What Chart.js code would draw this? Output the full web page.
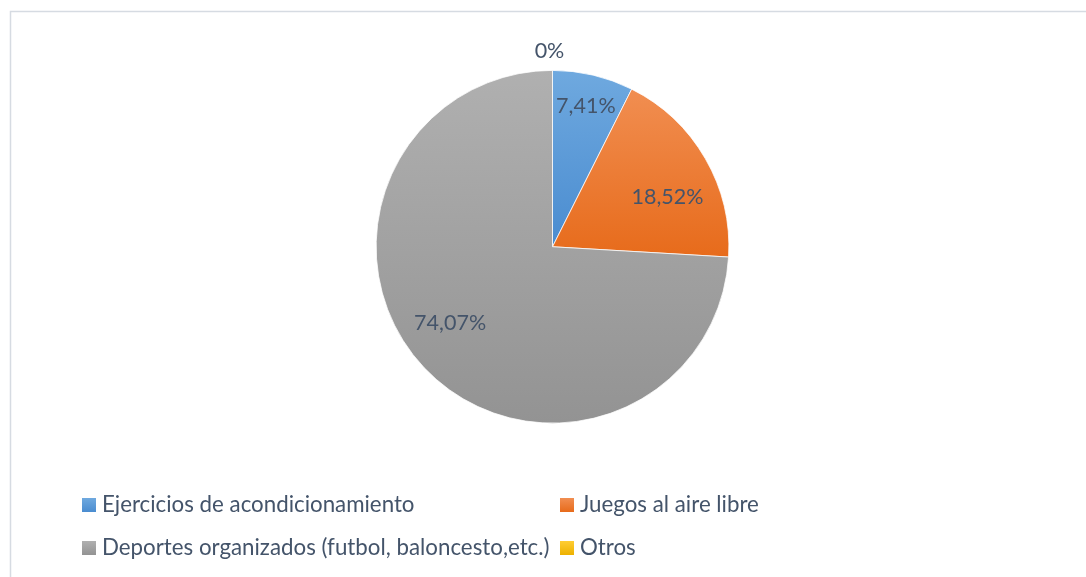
<!DOCTYPE html>
<html>
<head>
<meta charset="utf-8">
<script src="https://cdn.jsdelivr.net/npm/chart.js@4.4.1/dist/chart.umd.min.js"></script>
<style>
  html, body { margin: 0; padding: 0; background: #ffffff; }
  #wrap { position: relative; width: 1086px; height: 577px; }
</style>
</head>
<body>
<div id="wrap"><canvas id="c" width="1086" height="577"></canvas></div>
<script>
// Categories and their shares (percent)
const categories = [
  'Ejercicios de acondicionamiento',
  'Juegos al aire libre',
  'Deportes organizados (futbol, baloncesto,etc.)',
  'Otros'
];
const shares = [7.41, 18.52, 74.07, 0];

// Slice fills: light tone at the top of each slice, darker tone at the bottom
const topColors = ['#6FA9DF', '#F18E51', '#B0B0B0', '#FFCD33'];
const bottomColors = ['#4A8CD0', '#E76B1B', '#939393', '#EDB100'];

const TEXT_COLOR = '#44546A';
const FONT_FAMILY = 'Lato, "Open Sans", sans-serif';

// Label placement: fraction of radius for each slice and small nudges (px)
const labelRadiusFrac = [0.82, 0.72, 0.72, 1.11];
const labelNudge = [[0, 0], [5, 14], [-10, -11], [-3, 0]];

function formatPct(v) {
  return v === 0 ? '0%' : v.toFixed(2).replace('.', ',') + '%';
}

// Vertical extent of a pie slice (for its gradient)
function sliceExtent(cy, r, a0, a1) {
  let minY = cy, maxY = cy;
  const steps = 60;
  for (let k = 0; k <= steps; k++) {
    const a = a0 + (a1 - a0) * k / steps;
    const y = cy + r * Math.sin(a);
    if (y < minY) minY = y;
    if (y > maxY) maxY = y;
  }
  return [minY, maxY];
}

function sliceGradient(context) {
  const chart = context.chart;
  const area = chart.chartArea;
  const i = context.dataIndex;
  if (!area) return topColors[i];
  const cy = (area.top + area.bottom) / 2;
  const r = Math.min(area.right - area.left, area.bottom - area.top) / 2;
  const total = shares.reduce((s, v) => s + v, 0);
  let cum = 0;
  for (let k = 0; k < i; k++) cum += shares[k];
  const a0 = -Math.PI / 2 + 2 * Math.PI * cum / total;
  const a1 = a0 + 2 * Math.PI * shares[i] / total;
  let [y0, y1] = sliceExtent(cy, r, a0, a1);
  if (y1 - y0 < 1) y1 = y0 + 1;
  const g = chart.ctx.createLinearGradient(0, y0, 0, y1);
  g.addColorStop(0, topColors[i]);
  g.addColorStop(1, bottomColors[i]);
  return g;
}

// Frame around the chart area
const framePlugin = {
  id: 'frame',
  beforeDraw(chart) {
    const ctx = chart.ctx;
    ctx.save();
    ctx.strokeStyle = '#D6DBE2';
    ctx.lineWidth = 1.5;
    ctx.beginPath();
    ctx.moveTo(10.5, chart.height);
    ctx.lineTo(10.5, 11.5);
    ctx.lineTo(chart.width, 11.5);
    ctx.stroke();
    ctx.restore();
  }
};

// Percentage labels on the slices
const sliceLabelPlugin = {
  id: 'sliceLabels',
  afterDatasetsDraw(chart) {
    const ctx = chart.ctx;
    const meta = chart.getDatasetMeta(0);
    ctx.save();
    ctx.font = '21.5px ' + FONT_FAMILY;
    ctx.fillStyle = TEXT_COLOR;
    ctx.textAlign = 'center';
    ctx.textBaseline = 'middle';
    meta.data.forEach((arc, i) => {
      const p = arc.getProps(['x', 'y', 'startAngle', 'endAngle', 'outerRadius'], true);
      const mid = (p.startAngle + p.endAngle) / 2;
      const rr = p.outerRadius * labelRadiusFrac[i];
      const x = p.x + rr * Math.cos(mid) + labelNudge[i][0];
      const y = p.y + rr * Math.sin(mid) + labelNudge[i][1];
      ctx.fillText(formatPct(shares[i]), x, y);
    });
    ctx.restore();
  }
};

// Two-column legend below the pie
const legendColumns = [82, 560];
const legendRows = [505, 548];
const gridLegendPlugin = {
  id: 'gridLegend',
  afterDraw(chart) {
    const ctx = chart.ctx;
    const box = 14;
    ctx.save();
    ctx.font = '22.3px ' + FONT_FAMILY;
    ctx.textAlign = 'left';
    ctx.textBaseline = 'middle';
    chart.data.labels.forEach((label, i) => {
      const x = legendColumns[i % 2];
      const y = legendRows[Math.floor(i / 2)];
      const g = ctx.createLinearGradient(0, y - box / 2, 0, y + box / 2);
      g.addColorStop(0, topColors[i]);
      g.addColorStop(1, bottomColors[i]);
      ctx.fillStyle = g;
      ctx.fillRect(x, y - box / 2, box, box);
      ctx.fillStyle = TEXT_COLOR;
      ctx.fillText(label, x + box + 6, y);
    });
    ctx.restore();
  }
};

new Chart(document.getElementById('c'), {
  type: 'pie',
  data: {
    labels: categories,
    datasets: [{
      data: shares,
      backgroundColor: sliceGradient,
      borderColor: '#ffffff',
      borderWidth: (ctx) => (shares[ctx.dataIndex] === 0 ? 0 : 0.75)
    }]
  },
  options: {
    responsive: false,
    animation: false,
    devicePixelRatio: 1,
    layout: { padding: { top: 70, bottom: 153.5, left: 100, right: 81 } },
    plugins: {
      legend: { display: false },
      tooltip: { enabled: false }
    }
  },
  plugins: [framePlugin, sliceLabelPlugin, gridLegendPlugin]
});
</script>
</body>
</html>
